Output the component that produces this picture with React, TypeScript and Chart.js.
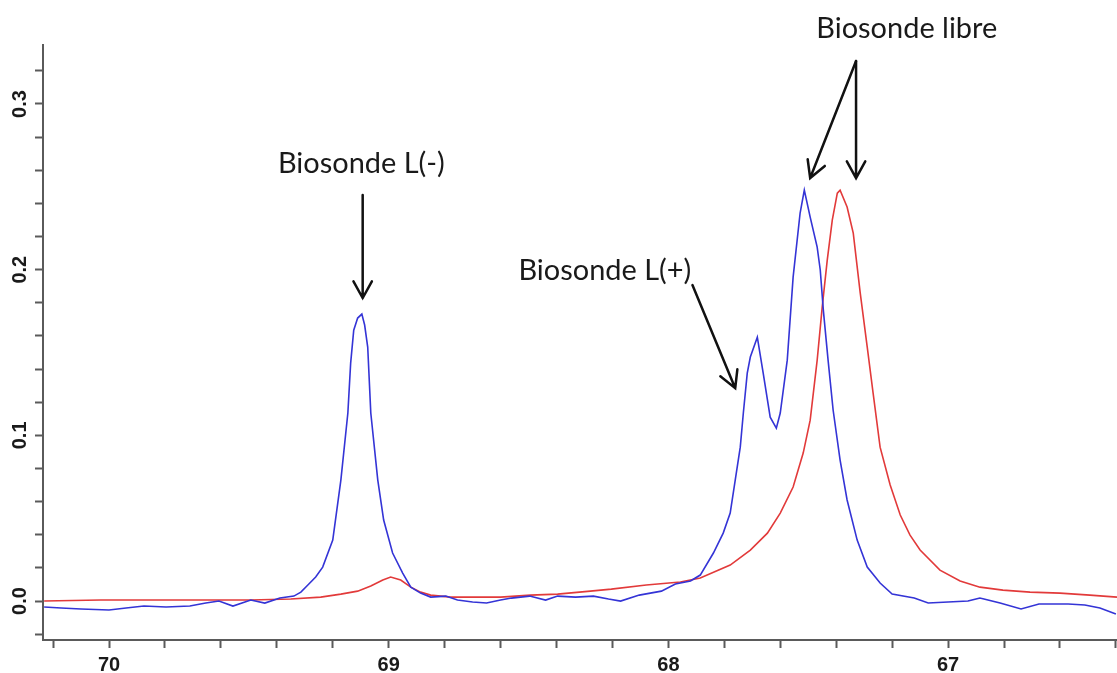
import React, { useEffect, useRef } from 'react';
import { Chart, registerables } from 'chart.js';

Chart.register(...registerables);

// Chemical shift (ppm) and intensity of the blue trace
const bluePpm = [70.232, 70.171, 70.1, 70.0, 69.939, 69.875, 69.796, 69.711, 69.654, 69.607, 69.557, 69.493, 69.443, 69.389, 69.339, 69.314, 69.289, 69.261, 69.236, 69.2, 69.171, 69.146, 69.136, 69.125, 69.111, 69.096, 69.086, 69.075, 69.064, 69.039, 69.018, 68.986, 68.95, 68.921, 68.886, 68.85, 68.796, 68.754, 68.7, 68.65, 68.6, 68.561, 68.496, 68.439, 68.396, 68.332, 68.268, 68.214, 68.171, 68.104, 68.025, 67.975, 67.921, 67.886, 67.839, 67.804, 67.779, 67.761, 67.743, 67.732, 67.718, 67.707, 67.682, 67.661, 67.636, 67.614, 67.6, 67.575, 67.554, 67.529, 67.514, 67.493, 67.468, 67.457, 67.446, 67.429, 67.411, 67.386, 67.361, 67.325, 67.289, 67.243, 67.2, 67.121, 67.071, 67.0, 66.929, 66.886, 66.814, 66.739, 66.675, 66.571, 66.511, 66.457, 66.4];
const blueIntensity = [-0.0036, -0.0042, -0.0048, -0.0054, -0.0042, -0.003, -0.0036, -0.003, -0.0012, 0.0, -0.003, 0.0006, -0.0012, 0.0018, 0.003, 0.0054, 0.0097, 0.0145, 0.0205, 0.0368, 0.073, 0.1135, 0.1436, 0.1635, 0.1708, 0.1732, 0.1666, 0.1533, 0.1135, 0.073, 0.0489, 0.029, 0.0169, 0.0084, 0.0048, 0.0024, 0.003, 0.0006, -0.0006, -0.0012, 0.0006, 0.0018, 0.003, 0.0006, 0.003, 0.0024, 0.003, 0.0012, 0.0, 0.0036, 0.006, 0.0103, 0.0121, 0.0157, 0.029, 0.041, 0.0531, 0.073, 0.0929, 0.1135, 0.1376, 0.1473, 0.1593, 0.1376, 0.111, 0.1044, 0.1135, 0.1454, 0.1955, 0.2342, 0.248, 0.2317, 0.2136, 0.1998, 0.1756, 0.1454, 0.1153, 0.0851, 0.061, 0.0368, 0.0205, 0.0109, 0.0042, 0.0018, -0.0012, -0.0006, 0.0, 0.0018, -0.0012, -0.0048, -0.0018, -0.0018, -0.0024, -0.0042, -0.0078];

// Chemical shift (ppm) and intensity of the red trace
const redPpm = [70.232, 70.029, 69.85, 69.671, 69.493, 69.35, 69.243, 69.171, 69.111, 69.064, 69.021, 68.993, 68.957, 68.921, 68.886, 68.85, 68.779, 68.6, 68.493, 68.396, 68.279, 68.204, 68.079, 67.957, 67.886, 67.779, 67.707, 67.646, 67.6, 67.554, 67.518, 67.493, 67.468, 67.45, 67.432, 67.414, 67.396, 67.386, 67.361, 67.339, 67.314, 67.289, 67.268, 67.243, 67.207, 67.171, 67.136, 67.1, 67.029, 66.957, 66.886, 66.804, 66.707, 66.6, 66.493, 66.396];
const redIntensity = [0.0, 0.0006, 0.0006, 0.0006, 0.0006, 0.0012, 0.0024, 0.0042, 0.006, 0.0091, 0.0127, 0.0145, 0.0127, 0.0084, 0.0054, 0.0036, 0.0024, 0.0024, 0.0036, 0.0042, 0.006, 0.0072, 0.0097, 0.0115, 0.0139, 0.0217, 0.0308, 0.041, 0.0531, 0.0688, 0.0893, 0.1092, 0.1454, 0.1774, 0.2058, 0.2299, 0.2462, 0.248, 0.2378, 0.2221, 0.1859, 0.1533, 0.1255, 0.0929, 0.07, 0.0519, 0.0398, 0.0308, 0.0187, 0.0121, 0.0084, 0.0066, 0.0054, 0.0048, 0.0036, 0.0024];

// Axis ticks
const xTickValues = [66.4, 66.6, 66.8, 67.0, 67.2, 67.4, 67.6, 67.8, 68.0, 68.2, 68.4, 68.6, 68.8, 69.0, 69.2, 69.4, 69.6, 69.8, 70.0, 70.2];
const xTickLabels = ['', '', '', '67', '', '', '', '', '68', '', '', '', '', '69', '', '', '', '', '70', ''];
const yTickValues = [-0.02, 0.0, 0.02, 0.04, 0.06, 0.08, 0.1, 0.12, 0.14, 0.16, 0.18, 0.2, 0.22, 0.24, 0.26, 0.28, 0.3, 0.32];
const yTickLabels = ['', '0.0', '', '', '', '', '0.1', '', '', '', '', '0.2', '', '', '', '', '0.3', ''];
const xRange = [66.396, 70.236];
const yRange = [-0.0235, 0.3356];

// Annotations (in data units)
const annotationTexts = ['Biosonde L(-)', 'Biosonde L(+)', 'Biosonde libre'];
const annotationPpm = [69.396, 68.536, 67.471];
const annotationIntensity = [0.2583, 0.1937, 0.3398];
const arrowFromPpm = [69.093, 67.914, 67.329, 67.329];
const arrowFromIntensity = [0.245, 0.1907, 0.3259, 0.3259];
const arrowToPpm = [69.093, 67.761, 67.493, 67.329];
const arrowToIntensity = [0.1829, 0.1285, 0.2553, 0.2553];

const annotationPlugin = {
  id: 'nmrAnnotations',
  afterDraw(chart: any) {
    const { ctx } = chart;
    const xs = chart.scales.x;
    const ys = chart.scales.y;
    ctx.save();
    const family = 'Lato, "Open Sans", sans-serif';
    ctx.font = `100px ${family}`;
    const w = ctx.measureText('Biosonde libre').width;
    const size = (100 * 181) / w;
    ctx.font = `${size}px ${family}`;
    ctx.fillStyle = '#1a1a1a';
    ctx.textAlign = 'left';
    ctx.textBaseline = 'alphabetic';
    annotationTexts.forEach((t, i) => {
      ctx.fillText(t, xs.getPixelForValue(annotationPpm[i]), ys.getPixelForValue(annotationIntensity[i]));
    });
    ctx.strokeStyle = '#111';
    ctx.lineWidth = 2.5;
    ctx.lineCap = 'round';
    const head = 19;
    const ang = (29 * Math.PI) / 180;
    arrowFromPpm.forEach((_, i) => {
      const x1 = xs.getPixelForValue(arrowFromPpm[i]);
      const y1 = ys.getPixelForValue(arrowFromIntensity[i]);
      const x2 = xs.getPixelForValue(arrowToPpm[i]);
      const y2 = ys.getPixelForValue(arrowToIntensity[i]);
      const a = Math.atan2(y2 - y1, x2 - x1);
      ctx.beginPath();
      ctx.moveTo(x1, y1);
      ctx.lineTo(x2, y2);
      ctx.moveTo(x2 - head * Math.cos(a - ang), y2 - head * Math.sin(a - ang));
      ctx.lineTo(x2, y2);
      ctx.lineTo(x2 - head * Math.cos(a + ang), y2 - head * Math.sin(a + ang));
      ctx.stroke();
    });
    ctx.restore();
  },
};

export default function App() {
  const ref = useRef<HTMLCanvasElement | null>(null);
  useEffect(() => {
    if (!ref.current) return;
    const axisColor = '#5a5a5a';
    const tickFont = { family: '"Liberation Sans", Arial, sans-serif', size: 20, weight: 'bold' as const };
    const chart = new Chart(ref.current, {
      type: 'line',
      data: {
        datasets: [
          {
            label: 'L',
            data: bluePpm.map((p, i) => ({ x: p, y: blueIntensity[i] })),
            borderColor: '#3434d6',
            borderWidth: 1.6,
            pointRadius: 0,
            tension: 0,
          },
          {
            label: 'libre',
            data: redPpm.map((p, i) => ({ x: p, y: redIntensity[i] })),
            borderColor: '#e23a3a',
            borderWidth: 1.6,
            pointRadius: 0,
            tension: 0,
          },
        ],
      },
      options: {
        responsive: false,
        animation: false,
        devicePixelRatio: 1,
        layout: { padding: { top: 45, left: 0, right: 0, bottom: 0 } },
        plugins: { legend: { display: false }, tooltip: { enabled: false } },
        scales: {
          x: {
            type: 'linear',
            reverse: true,
            min: xRange[0],
            max: xRange[1],
            afterBuildTicks: (s: any) => {
              s.ticks = xTickValues.map((v) => ({ value: v }));
            },
            afterFit: (s: any) => {
              s.height = 33;
              s.paddingLeft = 0;
              s.paddingRight = 0;
            },
            border: { display: true, color: axisColor, width: 2 },
            grid: { drawOnChartArea: false, drawTicks: true, tickLength: 8, tickColor: axisColor, tickWidth: 2 },
            ticks: {
              autoSkip: false,
              maxRotation: 0,
              minRotation: 0,
              padding: 5,
              color: '#1a1a1a',
              font: tickFont,
              callback: (_v: any, i: number) => xTickLabels[i],
            },
          },
          y: {
            type: 'linear',
            min: yRange[0],
            max: yRange[1],
            afterBuildTicks: (s: any) => {
              s.ticks = yTickValues.map((v) => ({ value: v }));
            },
            afterFit: (s: any) => {
              s.width = 43;
              s.paddingTop = 0;
              s.paddingBottom = 0;
            },
            border: { display: true, color: axisColor, width: 2 },
            grid: { drawOnChartArea: false, drawTicks: true, tickLength: 8, tickColor: axisColor, tickWidth: 2 },
            ticks: {
              autoSkip: false,
              minRotation: 90,
              maxRotation: 90,
              crossAlign: 'center',
              padding: 1,
              color: '#1a1a1a',
              font: tickFont,
              callback: (_v: any, i: number) => yTickLabels[i],
            },
          },
        },
      },
      plugins: [annotationPlugin],
    });
    return () => chart.destroy();
  }, []);
  return (
    <div style={{ position: 'fixed', left: 0, top: 0, width: 1117, height: 673, background: '#fff' }}>
      <canvas ref={ref} width={1117} height={673} style={{ display: 'block' }} />
    </div>
  );
}
